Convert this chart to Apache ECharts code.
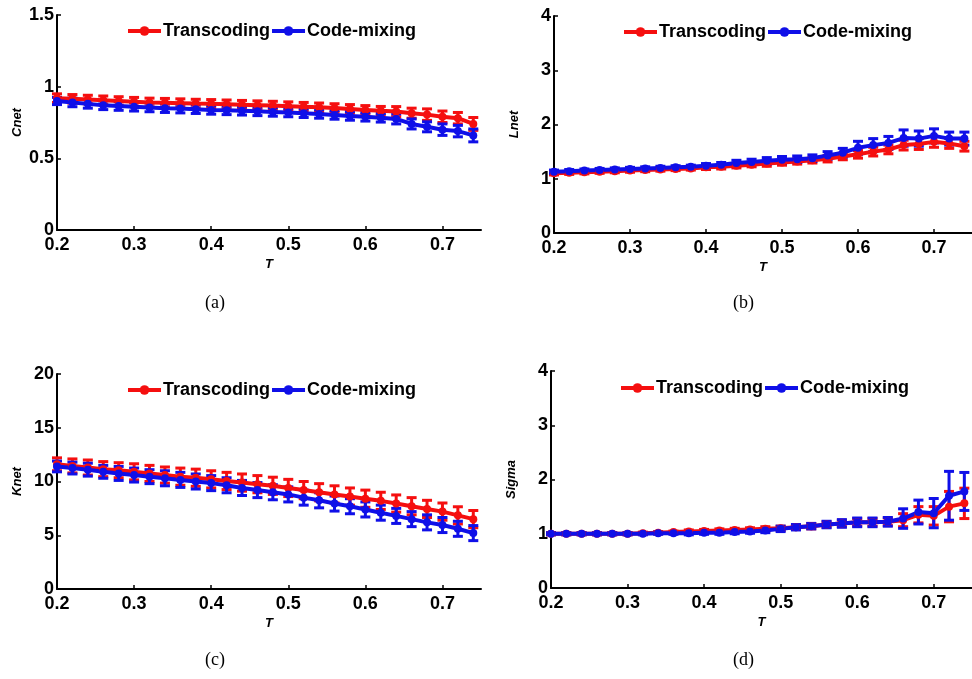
<!DOCTYPE html>
<html lang="en">
<head>
    <meta charset="UTF-8">
    <script type="text/javascript" src="https://cdn.jsdelivr.net/npm/echarts@6/dist/echarts.min.js"></script>
    <title>network measures vs T</title>
    <style>
        html, body { margin: 0; padding: 0; background: #fff; }
        #chart { width: 972px; height: 679px; }
    </style>
</head>
<body>
<div id="chart"></div>
<script type="text/javascript">
    // threshold values on the x axis
    var T = [0.20, 0.22, 0.24, 0.26, 0.28, 0.30, 0.32, 0.34, 0.36, 0.38, 0.40, 0.42, 0.44, 0.46,
             0.48, 0.50, 0.52, 0.54, 0.56, 0.58, 0.60, 0.62, 0.64, 0.66, 0.68, 0.70, 0.72, 0.74];

    // (a) Cnet
    var cnetTrans    = [0.92, 0.915, 0.91, 0.905, 0.90, 0.895, 0.89, 0.888, 0.885, 0.882, 0.88, 0.877, 0.874, 0.871,
                        0.868, 0.864, 0.86, 0.856, 0.851, 0.845, 0.838, 0.832, 0.826, 0.815, 0.805, 0.79, 0.78, 0.74];
    var cnetTransErr = [0.03, 0.03, 0.03, 0.03, 0.03, 0.03, 0.03, 0.03, 0.03, 0.03, 0.03, 0.03, 0.03, 0.03,
                        0.03, 0.03, 0.03, 0.03, 0.03, 0.03, 0.03, 0.03, 0.035, 0.035, 0.04, 0.04, 0.04, 0.045];
    var cnetMix      = [0.90, 0.89, 0.88, 0.87, 0.865, 0.86, 0.855, 0.85, 0.847, 0.843, 0.838, 0.835, 0.832, 0.828,
                        0.824, 0.82, 0.815, 0.81, 0.803, 0.796, 0.79, 0.783, 0.775, 0.74, 0.72, 0.70, 0.69, 0.66];
    var cnetMixErr   = [0.025, 0.03, 0.03, 0.03, 0.03, 0.03, 0.03, 0.03, 0.03, 0.03, 0.03, 0.03, 0.03, 0.03,
                        0.03, 0.03, 0.03, 0.03, 0.03, 0.03, 0.03, 0.03, 0.035, 0.035, 0.035, 0.04, 0.04, 0.045];

    // (b) Lnet
    var lnetTrans    = [1.10, 1.11, 1.12, 1.13, 1.14, 1.15, 1.16, 1.17, 1.18, 1.19, 1.21, 1.22, 1.24, 1.26,
                        1.28, 1.30, 1.32, 1.34, 1.37, 1.41, 1.45, 1.50, 1.54, 1.62, 1.64, 1.68, 1.65, 1.60];
    var lnetTransErr = [0.03, 0.03, 0.03, 0.03, 0.03, 0.03, 0.03, 0.03, 0.03, 0.03, 0.04, 0.04, 0.04, 0.04,
                        0.05, 0.05, 0.05, 0.05, 0.06, 0.06, 0.07, 0.08, 0.08, 0.09, 0.10, 0.10, 0.09, 0.09];
    var lnetMix      = [1.13, 1.14, 1.15, 1.16, 1.17, 1.18, 1.19, 1.20, 1.21, 1.22, 1.24, 1.26, 1.29, 1.31,
                        1.33, 1.35, 1.36, 1.38, 1.43, 1.48, 1.57, 1.62, 1.66, 1.75, 1.74, 1.79, 1.74, 1.74];
    var lnetMixErr   = [0.03, 0.03, 0.03, 0.03, 0.03, 0.03, 0.03, 0.03, 0.03, 0.03, 0.04, 0.04, 0.05, 0.05,
                        0.06, 0.06, 0.06, 0.06, 0.07, 0.08, 0.12, 0.12, 0.12, 0.15, 0.14, 0.13, 0.12, 0.12];

    // (c) Knet
    var knetTrans    = [11.6, 11.45, 11.3, 11.15, 11.05, 10.9, 10.75, 10.6, 10.45, 10.35, 10.2, 10.05, 9.9, 9.75,
                        9.6, 9.4, 9.2, 9.0, 8.8, 8.6, 8.4, 8.2, 7.95, 7.7, 7.45, 7.2, 6.85, 6.5];
    var knetTransErr = [0.6, 0.65, 0.7, 0.7, 0.7, 0.75, 0.75, 0.75, 0.8, 0.8, 0.8, 0.8, 0.8, 0.8,
                        0.8, 0.8, 0.8, 0.8, 0.8, 0.8, 0.8, 0.8, 0.8, 0.8, 0.8, 0.8, 0.8, 0.8];
    var knetMix      = [11.4, 11.25, 11.1, 10.9, 10.75, 10.6, 10.45, 10.3, 10.15, 10.0, 9.85, 9.65, 9.4, 9.2,
                        9.0, 8.8, 8.5, 8.25, 7.95, 7.7, 7.4, 7.1, 6.8, 6.5, 6.2, 5.95, 5.6, 5.2];
    var knetMixErr   = [0.5, 0.55, 0.6, 0.6, 0.65, 0.65, 0.65, 0.7, 0.7, 0.7, 0.7, 0.7, 0.7, 0.7,
                        0.7, 0.7, 0.7, 0.7, 0.7, 0.7, 0.7, 0.7, 0.7, 0.7, 0.7, 0.7, 0.7, 0.7];

    // (d) Sigma
    var sigmaTrans    = [1.00, 1.00, 1.00, 1.00, 1.00, 1.00, 1.01, 1.02, 1.03, 1.04, 1.05, 1.06, 1.07, 1.08,
                         1.09, 1.10, 1.12, 1.14, 1.17, 1.19, 1.21, 1.21, 1.22, 1.25, 1.35, 1.33, 1.50, 1.56];
    var sigmaTransErr = [0.02, 0.02, 0.02, 0.02, 0.02, 0.02, 0.02, 0.02, 0.02, 0.03, 0.03, 0.03, 0.03, 0.03,
                         0.04, 0.04, 0.04, 0.05, 0.05, 0.06, 0.07, 0.07, 0.07, 0.12, 0.15, 0.17, 0.28, 0.28];
    var sigmaMix      = [1.00, 1.00, 1.00, 1.00, 1.00, 1.00, 1.00, 1.01, 1.01, 1.01, 1.02, 1.02, 1.03, 1.04,
                         1.06, 1.09, 1.12, 1.14, 1.17, 1.19, 1.21, 1.21, 1.22, 1.28, 1.40, 1.38, 1.70, 1.78];
    var sigmaMixErr   = [0.02, 0.02, 0.02, 0.02, 0.02, 0.02, 0.02, 0.02, 0.02, 0.03, 0.03, 0.03, 0.03, 0.03,
                         0.04, 0.05, 0.05, 0.05, 0.06, 0.07, 0.08, 0.08, 0.08, 0.18, 0.22, 0.27, 0.45, 0.35];

    var yNames   = ['Cnet', 'Lnet', 'Knet', 'Sigma'];
    var yMax     = [1.5, 4, 20, 4];
    var yStep    = [0.5, 1, 5, 1];
    var captions = ['(a)', '(b)', '(c)', '(d)'];

    var RED = '#f50f0f';
    var BLUE = '#0f0fe8';

    var panels = [
        {tr: cnetTrans, trErr: cnetTransErr, mx: cnetMix, mxErr: cnetMixErr},
        {tr: lnetTrans, trErr: lnetTransErr, mx: lnetMix, mxErr: lnetMixErr},
        {tr: knetTrans, trErr: knetTransErr, mx: knetMix, mxErr: knetMixErr},
        {tr: sigmaTrans, trErr: sigmaTransErr, mx: sigmaMix, mxErr: sigmaMixErr}
    ];

    // plot boxes
    var boxes = [
        {left: 57, top: 15, width: 424, height: 215},
        {left: 554, top: 16, width: 424, height: 217},
        {left: 57, top: 374, width: 424, height: 215},
        {left: 551, top: 371, width: 424, height: 217}
    ];
    var legendPos = [{left: 126, top: 22}, {left: 622, top: 23}, {left: 126, top: 381}, {left: 619, top: 379}];
    var captionPos = [[218, 305], [746, 305], [218, 662], [746, 662]];

    function pairs(ys) {
        return T.map(function (t, i) { return [t, ys[i]]; });
    }
    function bars(ys, errs) {
        return T.map(function (t, i) { return [t, ys[i] - errs[i], ys[i] + errs[i]]; });
    }
    function errRender(color) {
        return function (params, api) {
            var lo = api.coord([api.value(0), api.value(1)]);
            var hi = api.coord([api.value(0), api.value(2)]);
            var w = 5;
            var st = {stroke: color, lineWidth: 3};
            return {
                type: 'group',
                children: [
                    {type: 'line', shape: {x1: lo[0], y1: lo[1], x2: hi[0], y2: hi[1]}, style: st},
                    {type: 'line', shape: {x1: lo[0] - w, y1: lo[1], x2: lo[0] + w, y2: lo[1]}, style: st},
                    {type: 'line', shape: {x1: hi[0] - w, y1: hi[1], x2: hi[0] + w, y2: hi[1]}, style: st}
                ]
            };
        };
    }

    var grid = [], xAxis = [], yAxis = [], series = [], legend = [], graphic = [];
    var tickFont = {color: '#000', fontWeight: 'bold', fontSize: 18, fontFamily: 'Liberation Sans, Arial, sans-serif'};
    var nameFont = {color: '#000', fontWeight: 'bold', fontStyle: 'italic', fontSize: 13, fontFamily: 'Liberation Sans, Arial, sans-serif'};

    panels.forEach(function (p, k) {
        grid.push(boxes[k]);
        xAxis.push({
            type: 'value', gridIndex: k, min: 0.2, max: 0.75, interval: 0.1,
            name: 'T', nameLocation: 'middle', nameGap: 28, nameTextStyle: nameFont,
            axisLine: {show: true, onZero: false, lineStyle: {color: '#000', width: 2}},
            axisTick: {show: true, inside: true, length: 4, lineStyle: {color: '#000', width: 1.5}},
            axisLabel: Object.assign({margin: 6, showMaxLabel: false}, tickFont),
            splitLine: {show: false}
        });
        yAxis.push({
            type: 'value', gridIndex: k, min: 0, max: yMax[k], interval: yStep[k],
            name: yNames[k], nameLocation: 'middle', nameGap: 33, nameTextStyle: nameFont,
            axisLine: {show: true, lineStyle: {color: '#000', width: 2}},
            axisTick: {show: true, inside: true, length: 4, lineStyle: {color: '#000', width: 1.5}},
            axisLabel: Object.assign({margin: 3}, tickFont),
            splitLine: {show: false}
        });
        [['Transcoding', p.tr, p.trErr, RED], ['Code-mixing', p.mx, p.mxErr, BLUE]].forEach(function (s) {
            series.push({
                type: 'line', name: s[0], xAxisIndex: k, yAxisIndex: k,
                data: pairs(s[1]), symbol: 'circle', symbolSize: 8, showSymbol: true,
                lineStyle: {color: s[3], width: 4}, itemStyle: {color: s[3]},
                animation: false, silent: true
            });
            series.push({
                type: 'custom', name: s[0] + ' err', xAxisIndex: k, yAxisIndex: k,
                data: bars(s[1], s[2]), renderItem: errRender(s[3]),
                encode: {x: 0, y: [1, 2]}, animation: false, silent: true, z: 3
            });
        });
        legend.push({
            left: legendPos[k].left, top: legendPos[k].top,
            data: ['Transcoding', 'Code-mixing'],
            itemWidth: 33, itemHeight: 12, itemGap: 0, padding: 0,
            lineStyle: {width: 4},
            textStyle: {color: '#000', fontWeight: 'bold', fontSize: 18, fontFamily: 'Liberation Sans, Arial, sans-serif', padding: [0, 0, 0, -3]},
            selectedMode: false
        });
        graphic.push({
            type: 'text', left: captionPos[k][0] - 13, top: captionPos[k][1] - 11,
            style: {text: captions[k], fill: '#000', font: '18px "Liberation Serif", "DejaVu Serif", serif'}
        });
    });

    var chart = echarts.init(document.getElementById('chart'), null, {renderer: 'canvas'});
    chart.setOption({
        backgroundColor: '#fff',
        animation: false,
        grid: grid,
        xAxis: xAxis,
        yAxis: yAxis,
        legend: legend,
        series: series,
        graphic: graphic
    });
</script>
</body>
</html>
